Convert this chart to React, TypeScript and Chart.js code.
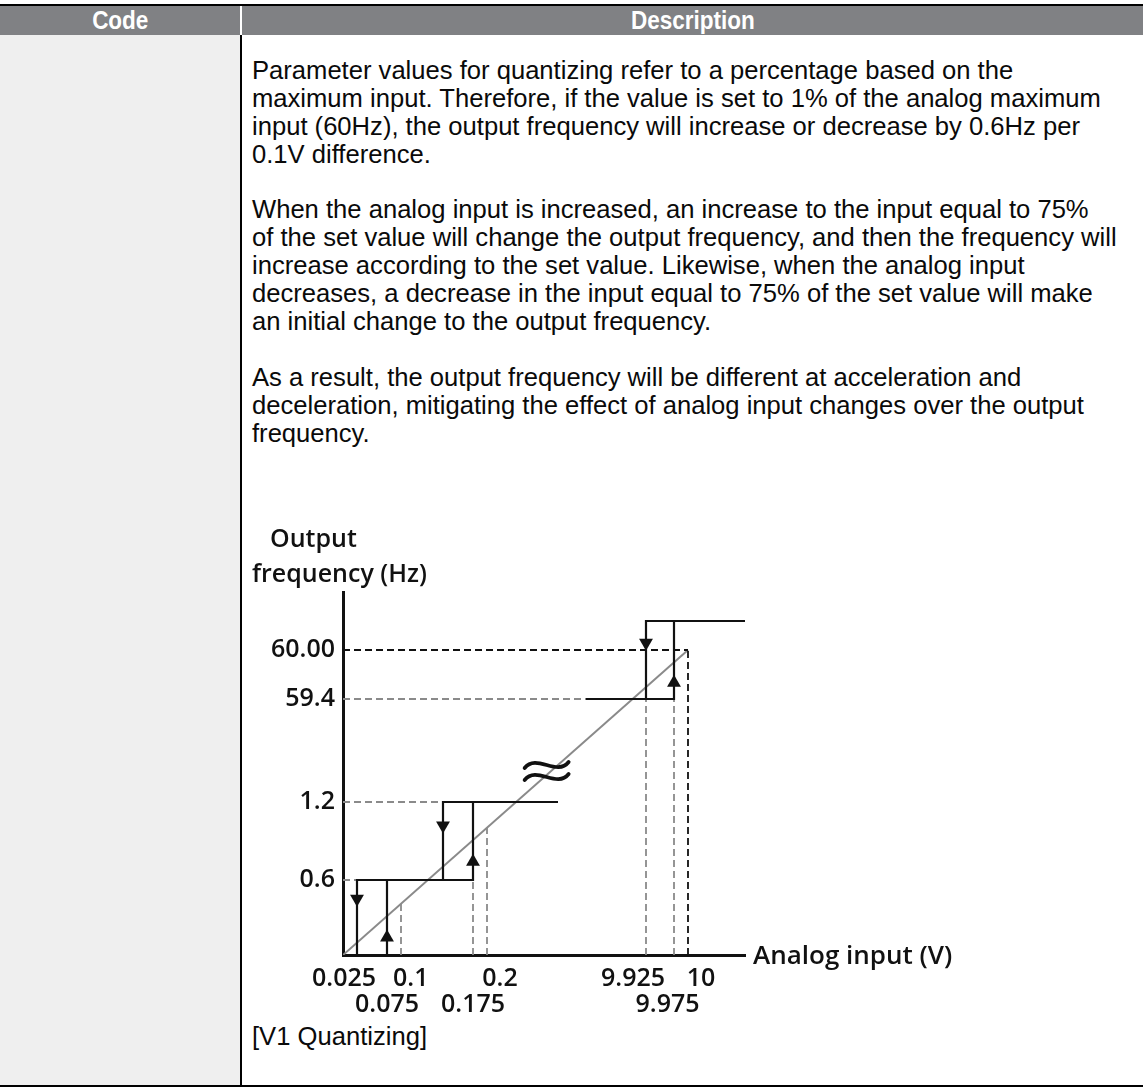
import React, { useEffect, useRef } from 'react';
import { Chart, LinearScale, registerables } from 'chart.js';

Chart.register(...registerables);

// ---------------- chart data ----------------
const xTickValues = [0.025, 0.075, 0.1, 0.175, 0.2, 9.925, 9.975, 10];
const xTickRow1 = ['0.025', '', '0.1', '', '0.2', '9.925', '', '10'];
const xTickRow2 = ['', '0.075', '', '0.175', '', '', '9.975', ''];
const yTickValues = [0.6, 1.2, 59.4, 60];
const yTickLabels = ['0.6', '1.2', '59.4', '60.00'];
const yTitle = ['Output', 'frequency (Hz)'];
const xTitle = 'Analog input (V)';

// ideal (unquantized) characteristic
const diagonal: [number, number][] = [[0, 0], [10, 60]];
// quantized output while accelerating / decelerating
const accelLow: [number, number][] = [[0.075, 0], [0.075, 0.6], [0.175, 0.6], [0.175, 1.2], [0.25, 1.2]];
const decelLow: [number, number][] = [[0.25, 1.2], [0.125, 1.2], [0.125, 0.6], [0.025, 0.6], [0.025, 0]];
const accelHigh: [number, number][] = [[9.875, 59.4], [9.975, 59.4], [9.975, 60.6], [10.1, 60.6]];
const decelHigh: [number, number][] = [[10.1, 60.6], [9.925, 60.6], [9.925, 59.4], [9.875, 59.4]];
// guide lines
const grayGuides: [number, number][][] = [
  [[0, 0.6], [0.025, 0.6]],
  [[0, 1.2], [0.125, 1.2]],
  [[0, 59.4], [9.875, 59.4]],
  [[0.1, 0], [0.1, 0.41]],
  [[0.175, 0], [0.175, 0.6]],
  [[0.2, 0], [0.2, 1.0]],
  [[9.925, 0], [9.925, 59.4]],
  [[9.975, 0], [9.975, 59.4]],
];
const blackGuides: [number, number][][] = [
  [[0, 60], [10, 60]],
  [[10, 0], [10, 60]],
];
const arrowsUp: [number, number][] = [[0.075, 0.14], [0.175, 0.74], [9.975, 59.6]];
const arrowsDown: [number, number][] = [[0.025, 0.45], [0.125, 1.02], [9.925, 60.15]];
const breakMark: [number, number] = [0.242, 18.7];

// ---------------- page text ----------------
const para1 = [
  'Parameter values for quantizing refer to a percentage based on the',
  'maximum input. Therefore, if the value is set to 1% of the analog maximum',
  'input (60Hz), the output frequency will increase or decrease by 0.6Hz per',
  '0.1V difference.',
];
const para2 = [
  'When the analog input is increased, an increase to the input equal to 75%',
  'of the set value will change the output frequency, and then the frequency will',
  'increase according to the set value. Likewise, when the analog input',
  'decreases, a decrease in the input equal to 75% of the set value will make',
  'an initial change to the output frequency.',
];
const para3 = [
  'As a result, the output frequency will be different at acceleration and',
  'deceleration, mitigating the effect of analog input changes over the output',
  'frequency.',
];
const caption = '[V1 Quantizing]';

// ---------------- broken (schematic) axis scale ----------------
// anchors: [value, relative position along the axis]
const X_WARP: [number, number][] = [
  [0, 0], [0.025, 14], [0.075, 44], [0.1, 58], [0.125, 100], [0.175, 130], [0.2, 144],
  [0.25, 215], [9.875, 243], [9.925, 303], [9.975, 331], [10, 345], [10.1, 402],
];
const Y_WARP: [number, number][] = [
  [0, 0], [0.6, 75], [1.2, 153], [59.4, 256], [60, 305], [60.6, 334], [61, 363],
];
// horizontal nudge of x tick labels (in space characters; + = right, - = left)
const X_LABEL_NUDGE = [-4, 0, 3, 0, 4, -4, -2, 4];

function warpDecimal(a: [number, number][], v: number) {
  const span = a[a.length - 1][1];
  if (v <= a[0][0]) return a[0][1] / span;
  for (let i = 1; i < a.length; i++) {
    if (v <= a[i][0]) {
      const [v0, p0] = a[i - 1];
      const [v1, p1] = a[i];
      return (p0 + ((v - v0) / (v1 - v0)) * (p1 - p0)) / span;
    }
  }
  return 1;
}
function unwarp(a: [number, number][], d: number) {
  const span = a[a.length - 1][1];
  const p = d * span;
  for (let i = 1; i < a.length; i++) {
    if (p <= a[i][1]) {
      const [v0, p0] = a[i - 1];
      const [v1, p1] = a[i];
      return v0 + ((p - p0) / (p1 - p0)) * (v1 - v0);
    }
  }
  return a[a.length - 1][0];
}

class BrokenScale extends LinearScale {
  static id = 'broken';
  anchors() {
    return (this as any).axis === 'x' ? X_WARP : Y_WARP;
  }
  getPixelForValue(value: number) {
    if (value === null || value === undefined || isNaN(value)) return NaN;
    return this.getPixelForDecimal(warpDecimal(this.anchors(), value));
  }
  getValueForPixel(pixel: number) {
    return unwarp(this.anchors(), this.getDecimalForPixel(pixel));
  }
}
Chart.register(BrokenScale as any);

const pts = (arr: [number, number][]) => arr.map(([x, y]) => ({ x, y }));
const withGaps = (segs: [number, number][][]) => {
  const out: { x: number; y: number | null }[] = [];
  segs.forEach((s, i) => {
    if (i > 0) out.push({ x: s[0][0], y: null });
    s.forEach(([x, y]) => out.push({ x, y }));
  });
  return out;
};
const nudge = (s: string, n: number) => {
  if (!s || !n) return s;
  const sp = ' '.repeat(Math.abs(n));
  return n > 0 ? sp + s : s + sp;
};

const INK = '#111111';
const GRAY = '#8a8a8a';
const CHART_FONT = '"Open Sans", "DejaVu Sans", sans-serif';
const TICK_FONT = { family: CHART_FONT, size: 25, weight: 600 as any, lineHeight: 1.04 };

const annotationPlugin = {
  id: 'annotationPlugin',
  afterDraw(chart: any) {
    const { ctx, chartArea, scales } = chart;
    ctx.save();
    ctx.fillStyle = INK;
    ctx.font = `600 25px ${CHART_FONT}`;
    ctx.textAlign = 'left';
    ctx.textBaseline = 'alphabetic';
    ctx.fillText(yTitle[0], chartArea.left - 73, chartArea.top - 45);
    ctx.fillText(yTitle[1], chartArea.left - 91, chartArea.top - 10);
    ctx.font = `600 26px ${CHART_FONT}`;
    ctx.fillText(xTitle, chartArea.right + 8, chartArea.bottom + 9);
    // axis break mark (two tildes)
    const cx = scales.x.getPixelForValue(breakMark[0]);
    const cy = scales.y.getPixelForValue(breakMark[1]);
    ctx.strokeStyle = INK;
    ctx.lineWidth = 3.8;
    ctx.lineCap = 'round';
    [-6, 6].forEach((dy) => {
      ctx.beginPath();
      ctx.moveTo(cx - 22, cy + dy + 3);
      ctx.bezierCurveTo(cx - 10, cy + dy - 12, cx + 10, cy + dy + 12, cx + 22, cy + dy - 3);
      ctx.stroke();
    });
    ctx.restore();
  },
};

function QuantizeChart() {
  const ref = useRef<HTMLCanvasElement | null>(null);
  useEffect(() => {
    if (!ref.current) return;
    const lineBase = { showLine: true, pointRadius: 0, fill: false, tension: 0, spanGaps: false };
    const arrowBase = { ...lineBase, showLine: false, pointStyle: 'triangle', pointRadius: 8, pointBackgroundColor: INK, pointBorderColor: INK, pointBorderWidth: 0 };
    const chart = new Chart(ref.current, {
      type: 'line',
      data: {
        datasets: [
          { ...arrowBase, label: 'up', data: pts(arrowsUp), pointRotation: 0 },
          { ...arrowBase, label: 'down', data: pts(arrowsDown), pointRotation: 180 },
          { ...lineBase, label: 'accelLow', data: pts(accelLow), borderColor: INK, borderWidth: 2.2 },
          { ...lineBase, label: 'decelLow', data: pts(decelLow), borderColor: INK, borderWidth: 2.2 },
          { ...lineBase, label: 'accelHigh', data: pts(accelHigh), borderColor: INK, borderWidth: 2.2 },
          { ...lineBase, label: 'decelHigh', data: pts(decelHigh), borderColor: INK, borderWidth: 2.2 },
          { ...lineBase, label: 'blackGuides', data: withGaps(blackGuides), borderColor: INK, borderWidth: 1.8, borderDash: [7, 4] },
          { ...lineBase, label: 'grayGuides', data: withGaps(grayGuides), borderColor: GRAY, borderWidth: 1.8, borderDash: [7, 4] },
          { ...lineBase, label: 'diagonal', data: pts(diagonal), borderColor: GRAY, borderWidth: 2 },
        ] as any,
      },
      options: {
        responsive: false,
        maintainAspectRatio: false,
        animation: false,
        events: [],
        layout: { padding: { top: 72, right: 398, bottom: 0, left: 0 } },
        plugins: { legend: { display: false }, tooltip: { enabled: false }, title: { display: false } },
        scales: {
          x: {
            type: 'broken' as any,
            min: 0,
            max: 10.1,
            grid: { display: false, drawTicks: false, tickLength: 0 },
            border: { display: true, color: INK, width: 3 },
            ticks: {
              autoSkip: false,
              maxRotation: 0,
              minRotation: 0,
              padding: 11,
              color: INK,
              font: TICK_FONT,
              callback: (_v: any, i: number) => [
                nudge(xTickRow1[i], X_LABEL_NUDGE[i]),
                nudge(xTickRow2[i], X_LABEL_NUDGE[i]),
              ],
            },
            afterBuildTicks: (s: any) => { s.ticks = xTickValues.map((value) => ({ value })); },
            afterFit: (s: any) => { s.height = 65; },
          },
          y: {
            type: 'broken' as any,
            min: 0,
            max: 61,
            grid: { display: false, drawTicks: false, tickLength: 0 },
            border: { display: true, color: INK, width: 3 },
            ticks: {
              autoSkip: false,
              padding: 8,
              color: INK,
              font: TICK_FONT,
              callback: (_v: any, i: number) => yTickLabels[i],
            },
            afterBuildTicks: (s: any) => { s.ticks = yTickValues.map((value) => ({ value })); },
            afterFit: (s: any) => { s.width = 100; },
          },
        } as any,
      },
      plugins: [annotationPlugin],
    });
    return () => chart.destroy();
  }, []);
  return (
    <canvas
      ref={ref}
      width={900}
      height={500}
      style={{ position: 'absolute', left: 243, top: 520, width: 900, height: 500 }}
    />
  );
}

const bodyFont = '"Liberation Sans", Arial, Helvetica, sans-serif';
const BODY_SIZE = 25.6;

export default function App() {
  const lineStyle: React.CSSProperties = { whiteSpace: 'nowrap', height: 27.9 };
  const renderPara = (lines: string[], key: string) =>
    lines.map((l, i) => (
      <div key={key + i} style={lineStyle}>
        {l}
      </div>
    ));
  const headText: React.CSSProperties = {
    display: 'inline-block', transform: 'scaleX(0.9)', fontWeight: 700, fontSize: 25, color: '#fff',
  };
  return (
    <div
      style={{
        position: 'absolute',
        left: 0,
        top: 0,
        width: 1143,
        height: 1089,
        background: '#ffffff',
        overflow: 'hidden',
        fontFamily: bodyFont,
      }}
    >
      {/* top rule */}
      <div style={{ position: 'absolute', left: 0, top: 4, width: 1143, height: 2, background: '#000' }} />
      {/* header */}
      <div style={{ position: 'absolute', left: 0, top: 6, width: 1143, height: 29, background: '#808184' }} />
      <div style={{ position: 'absolute', left: 240, top: 6, width: 2, height: 29, background: '#ffffff' }} />
      <div
        style={{
          position: 'absolute', left: 0, top: 6, width: 240, height: 29, lineHeight: '29px', textAlign: 'center',
        }}
      >
        <span style={headText}>Code</span>
      </div>
      <div
        style={{
          position: 'absolute', left: 242, top: 6, width: 901, height: 29, lineHeight: '29px', textAlign: 'center',
        }}
      >
        <span style={headText}>Description</span>
      </div>
      {/* code column */}
      <div style={{ position: 'absolute', left: 0, top: 35, width: 240, height: 1050, background: '#efefef' }} />
      <div style={{ position: 'absolute', left: 240, top: 35, width: 2, height: 1050, background: '#000' }} />
      {/* bottom rule */}
      <div style={{ position: 'absolute', left: 0, top: 1085, width: 1143, height: 2, background: '#000' }} />
      {/* description text */}
      <div
        style={{
          position: 'absolute', left: 252, top: 57, fontSize: BODY_SIZE, lineHeight: '27.9px', color: '#0a0a0a',
        }}
      >
        {renderPara(para1, 'a')}
        <div style={lineStyle} />
        {renderPara(para2, 'b')}
        <div style={lineStyle} />
        {renderPara(para3, 'c')}
      </div>
      <QuantizeChart />
      <div
        style={{
          position: 'absolute', left: 252, top: 1023, fontSize: BODY_SIZE, lineHeight: '27.9px', color: '#0a0a0a',
          whiteSpace: 'nowrap',
        }}
      >
        {caption}
      </div>
    </div>
  );
}
